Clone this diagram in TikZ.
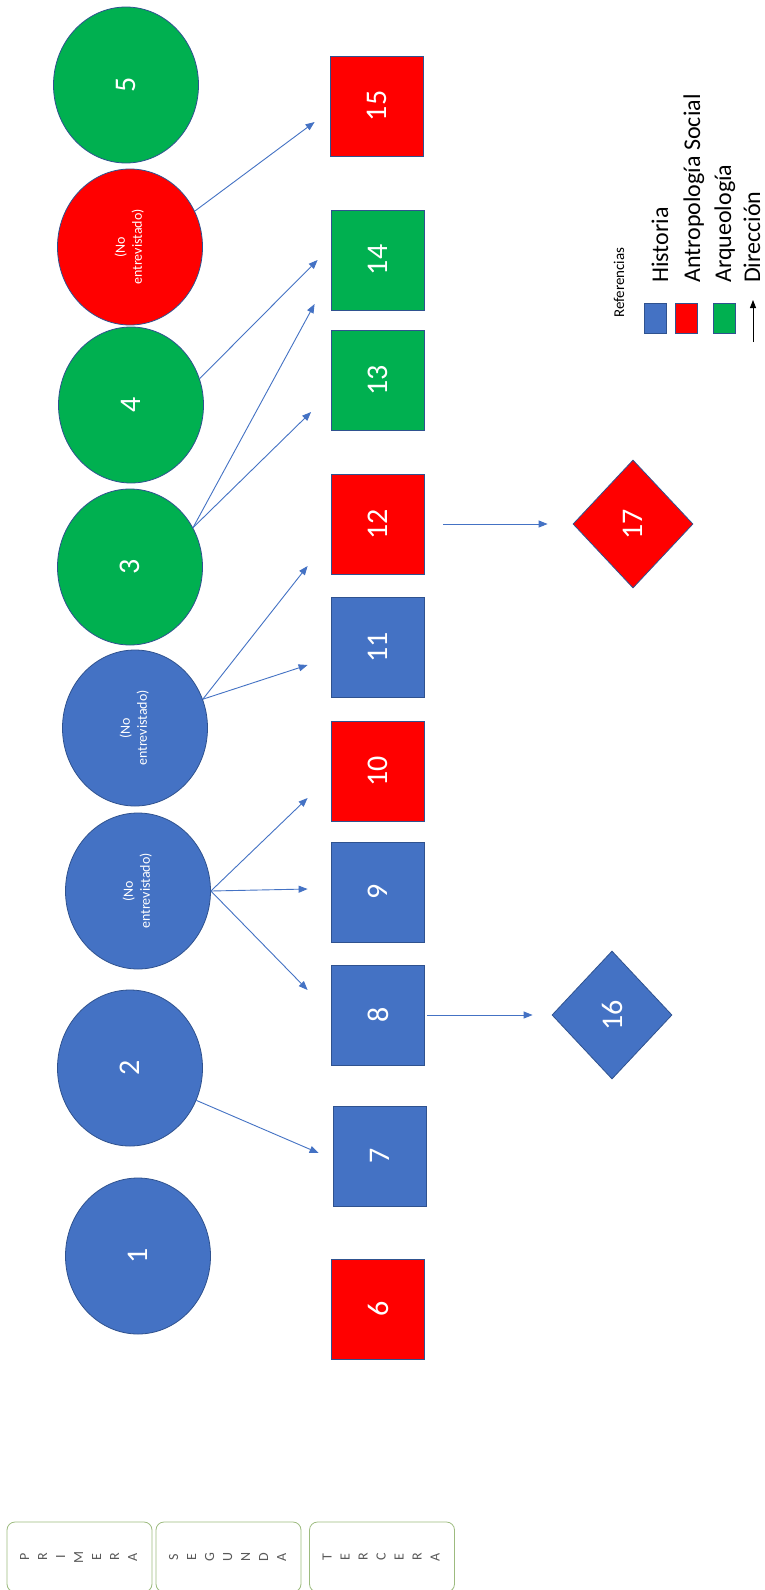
\documentclass[tikz,border=0pt]{standalone}
\usepackage{fontspec}
\setmainfont{Carlito}
\usepackage{graphicx}
\usetikzlibrary{shapes.geometric,arrows.meta,calc}
\definecolor{hblue}{HTML}{4472C4}
\definecolor{hred}{HTML}{FF0000}
\definecolor{hgreen}{HTML}{00B050}
\definecolor{edgec}{HTML}{2F528F}
\definecolor{boxedge}{HTML}{9DBB7F}
\definecolor{arrowc}{HTML}{4472C4}
\definecolor{lettc}{HTML}{595959}
\newcommand{\rot}[1]{\rotatebox{90}{#1}}
\newcommand{\noent}{\rotatebox{90}{\fontsize{14}{17}\selectfont\begin{tabular}{@{}c@{}}(No\\entrevistado)\end{tabular}}}
\newcommand{\vword}[1]{\rotatebox{90}{\fontsize{14}{18}\selectfont\color{lettc}\begin{tabular}{@{}c@{}}#1\end{tabular}}}
\begin{document}
\begin{tikzpicture}[x=1pt,y=-1pt,
  person/.style={ellipse, minimum width=145pt, minimum height=156pt, inner sep=0pt, draw=edgec, line width=0.8pt, text=white, font=\fontsize{30}{36}\selectfont},
  sq/.style={rectangle, minimum width=93pt, minimum height=100pt, inner sep=0pt, draw=edgec, line width=0.8pt, text=white, font=\fontsize{30}{36}\selectfont},
  dia/.style={diamond, minimum width=120pt, minimum height=128pt, inner sep=0pt, draw=edgec, line width=0.8pt, text=white, font=\fontsize{30}{36}\selectfont},
  arr/.style={draw=arrowc, line width=0.9pt, -{Triangle[length=9pt,width=7pt]}},
  leg/.style={rectangle, minimum width=22pt, minimum height=30pt, inner sep=0pt, draw=edgec, line width=0.5pt},
  legtext/.style={rotate=90, anchor=base west, inner sep=0pt, font=\fontsize{24}{28}\selectfont},
  stage/.style={rectangle, rounded corners=8pt, draw=boxedge, line width=0.8pt, fill=white, minimum width=145pt, minimum height=70pt, inner sep=0pt}
]
\useasboundingbox (0,0) rectangle (764,1590);
\fill[white] (0,0) rectangle (764,1590);

% first generation (circles)
\node[person, fill=hgreen] (c5) at (126,85) {\rot{5}};
\node[person, fill=hred] (cr) at (130,247) {\noent};
\node[person, fill=hgreen] (c4) at (131,405) {\rot{4}};
\node[person, fill=hgreen] (c3) at (130,567) {\rot{3}};
\node[person, fill=hblue] (cb1) at (135,728) {\noent};
\node[person, fill=hblue] (cb2) at (138,891) {\noent};
\node[person, fill=hblue] (c2) at (130,1068) {\rot{2}};
\node[person, fill=hblue] (c1) at (138,1256) {\rot{1}};

% second generation (squares)
\node[sq, fill=hred] (s15) at (377,106) {\rot{15}};
\node[sq, fill=hgreen] (s14) at (378,260) {\rot{14}};
\node[sq, fill=hgreen] (s13) at (378,380) {\rot{13}};
\node[sq, fill=hred] (s12) at (378,524) {\rot{12}};
\node[sq, fill=hblue] (s11) at (378,647) {\rot{11}};
\node[sq, fill=hred] (s10) at (378,771) {\rot{10}};
\node[sq, fill=hblue] (s9) at (378,892) {\rot{9}};
\node[sq, fill=hblue] (s8) at (378,1015) {\rot{8}};
\node[sq, fill=hblue] (s7) at (380,1156) {\rot{7}};
\node[sq, fill=hred] (s6) at (378,1309) {\rot{6}};

% third generation (diamonds)
\node[dia, fill=hred] (d17) at (633,524) {\rot{17}};
\node[dia, fill=hblue] (d16) at (612,1015) {\rot{16}};

% arrow ends
\coordinate (e15) at ($(s15.west)+(-15.5,16)$);
\coordinate (e14a) at ($(s14.west)+(-13.5,0)$);
\coordinate (e14b) at ($(s14.west)+(-16.5,44)$);
\coordinate (e13) at ($(s13.west)+(-20,32)$);
\coordinate (e12) at ($(s12.west)+(-23.5,42)$);
\coordinate (e11) at ($(s11.west)+(-23.5,18)$);
\coordinate (e10) at ($(s10.west)+(-23.5,27)$);
\coordinate (e9) at ($(s9.west)+(-23.5,-3)$);
\coordinate (e8) at ($(s8.west)+(-23.5,-25)$);
\coordinate (e7) at ($(s7.west)+(-14.5,-3)$);

\draw[arr] (cr.29) -- (e15);
\draw[arr] (c4.21) -- (e14a);
\draw[arr] (c3.32) -- (e14b);
\draw[arr] (c3.32) -- (e13);
\draw[arr] (cb1.23) -- (e12);
\draw[arr] (cb1.23) -- (e11);
\draw[arr] (cb2.east) -- (e10);
\draw[arr] (cb2.east) -- (e9);
\draw[arr] (cb2.east) -- (e8);
\draw[arr] (c2.-26) -- (e7);
\draw[arr, shorten <=18.5pt, shorten >=25pt] (s12.east) -- (d17.west);
\draw[arr, shorten <=2.5pt, shorten >=19pt] (s8.east) -- (d16.west);

% legend
\node[rotate=90, anchor=base west, inner sep=0pt, font=\fontsize{15}{18}\selectfont] (ref) at (624,318) {Referencias};
\node[leg, fill=hblue] (lb) at (655,318) {};
\node[leg, fill=hred] (lr) at (686,318) {};
\node[leg, fill=hgreen] (lg) at (724,318) {};
\node[legtext] (th) at (668,283) {Historia};
\node[legtext] (ta) at (700,283) {Antropología Social};
\node[legtext] (tq) at (731,283) {Arqueología};
\node[legtext] (td) at (760,283) {Dirección};
\coordinate (la0) at (753,342);
\draw[line width=0.9pt, -{Triangle[length=8pt,width=6pt]}] (la0) -- ($(td.base west)+(-7,17)$);

% stages
\node[stage] (p1) at (79.5,1557) {\vword{P\\R\\I\\M\\E\\R\\A}};
\node[stage] (p2) at (228.5,1557) {\vword{S\\E\\G\\U\\N\\D\\A}};
\node[stage] (p3) at (382,1557) {\vword{T\\E\\R\\C\\E\\R\\A}};
\end{tikzpicture}
\end{document}
